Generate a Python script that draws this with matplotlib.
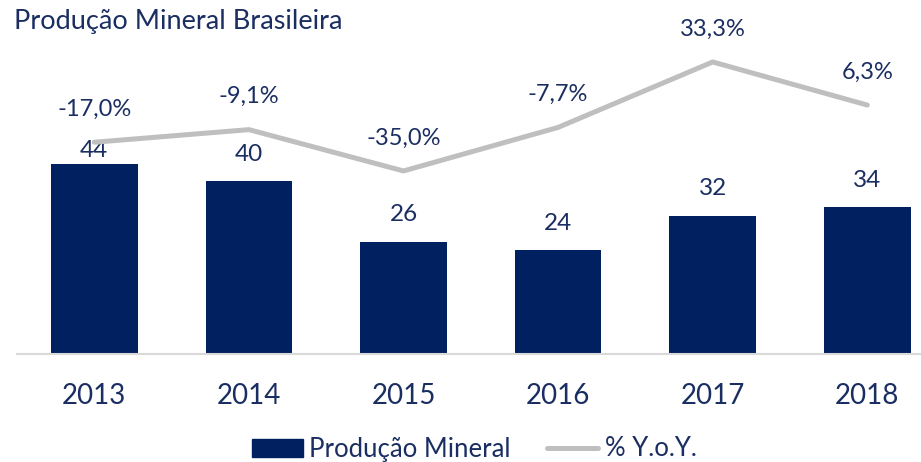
import matplotlib.pyplot as plt
from matplotlib.patches import Patch
from matplotlib.lines import Line2D

years = ["2013", "2014", "2015", "2016", "2017", "2018"]
producao = [44, 40, 26, 24, 32, 34]
yoy = [-17.0, -9.1, -35.0, -7.7, 33.3, 6.3]

bar_color = "#002060"
line_color = "#BFBFBF"
text_color = "#1b2e62"
plt.rcParams["font.family"] = ["Lato", "DejaVu Sans"]

fig = plt.figure(figsize=(9.21, 4.62), dpi=100)
ax = fig.add_axes([17 / 921, (462 - 354) / 462, 927.6 / 921, (354 - 20) / 462])
x = list(range(len(years)))

ax.bar(x, producao, width=0.56, color=bar_color, zorder=2)
ax.set_xlim(-0.5, 5.5)
ax.set_ylim(0, 77.3)
ax.set_yticks([])
ax.set_xticks(x)
ax.set_xticklabels(years, fontsize=20, color=text_color)
ax.tick_params(axis="x", length=0, pad=21)
for s in ["top", "right", "left"]:
    ax.spines[s].set_visible(False)
ax.spines["bottom"].set_color("#D9D9D9")
ax.spines["bottom"].set_linewidth(1.5)

# rotulos das barras (2013 fica mais baixo por causa da linha)
bar_off = [13, 27, 27, 27, 27, 27]
for i, v in enumerate(producao):
    ax.annotate(str(v), (i, v), xytext=(0, bar_off[i]), textcoords="offset pixels",
                ha="center", va="center", fontsize=17.5, color=text_color, zorder=5)

ax2 = ax.twinx()
ax2.set_ylim(-149.7, 59.6)
ax2.axis("off")
ax2.plot(x, yoy, color=line_color, lw=3.6, solid_capstyle="round", zorder=3)
for i, v in enumerate(yoy):
    lbl = f"{v:.1f}%".replace(".", ",")
    ax2.annotate(lbl, (i, v), xytext=(0, 33), textcoords="offset pixels",
                 ha="center", va="center", fontsize=17, color=text_color)

fig.text(14 / 921, 1 - 22 / 462, "Produção Mineral Brasileira", fontsize=19.5,
         color=text_color, ha="left", va="center")

handles = [Patch(color=bar_color, label="Produção Mineral"),
           Line2D([], [], color=line_color, lw=3.6, solid_capstyle="round", label="% Y.o.Y.")]
leg = fig.legend(handles=handles, loc="center", bbox_to_anchor=(474 / 921, 1 - 449 / 462),
                 ncol=2, frameon=False, fontsize=18.5, handlelength=2.0, handletextpad=0.25,
                 columnspacing=1.4)
for t in leg.get_texts():
    t.set_color(text_color)

fig.savefig("out.png", dpi=100)
